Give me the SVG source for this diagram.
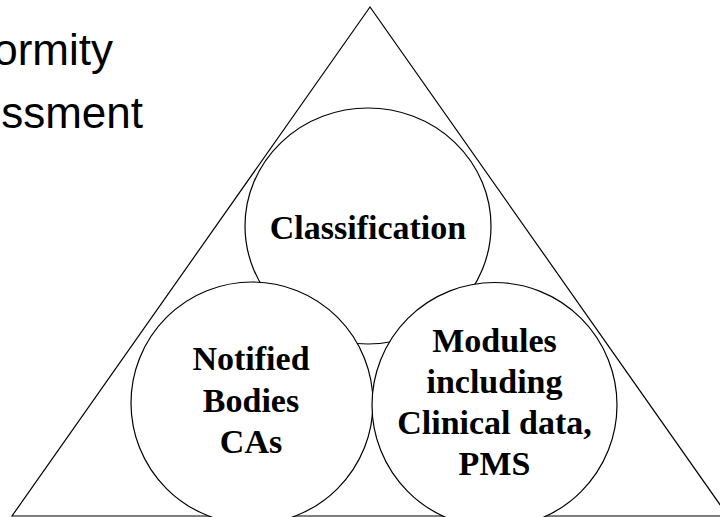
<svg xmlns="http://www.w3.org/2000/svg" width="720" height="517" viewBox="0 0 720 517">
<style>
.shape{fill:#fff;stroke:#000;stroke-width:1.2}
.lbl{font-family:"Liberation Serif","Times New Roman",serif;font-weight:bold;font-size:34px;fill:#000;text-anchor:middle}
.title{font-family:"Liberation Sans",Arial,sans-serif;font-size:44px;fill:#000;text-anchor:end}
</style>
<rect width="720" height="517" fill="#fff"/>
<g id="title">
<text class="title" x="113" y="65">Conformity</text>
<text class="title" x="143" y="128">Assessment</text>
</g>
<g id="triangle">
<polygon class="shape" points="370,7 12,516 728,516"/>
</g>
<g id="connectors"></g>
<g id="classification">
<ellipse class="shape" cx="368" cy="226" rx="123" ry="118"/>
<text class="lbl" x="368" y="239">Classification</text>
</g>
<g id="notified">
<circle class="shape" cx="252" cy="403" r="121"/>
<text class="lbl" x="251" y="370">Notified</text>
<text class="lbl" x="251" y="411.5">Bodies</text>
<text class="lbl" x="251" y="453">CAs</text>
</g>
<g id="modules">
<circle class="shape" cx="494.5" cy="405" r="122.5"/>
<text class="lbl" x="494.5" y="352">Modules</text>
<text class="lbl" x="494.5" y="393">including</text>
<text class="lbl" x="494.5" y="434">Clinical data,</text>
<text class="lbl" x="494.5" y="475">PMS</text>
</g>
</svg>
